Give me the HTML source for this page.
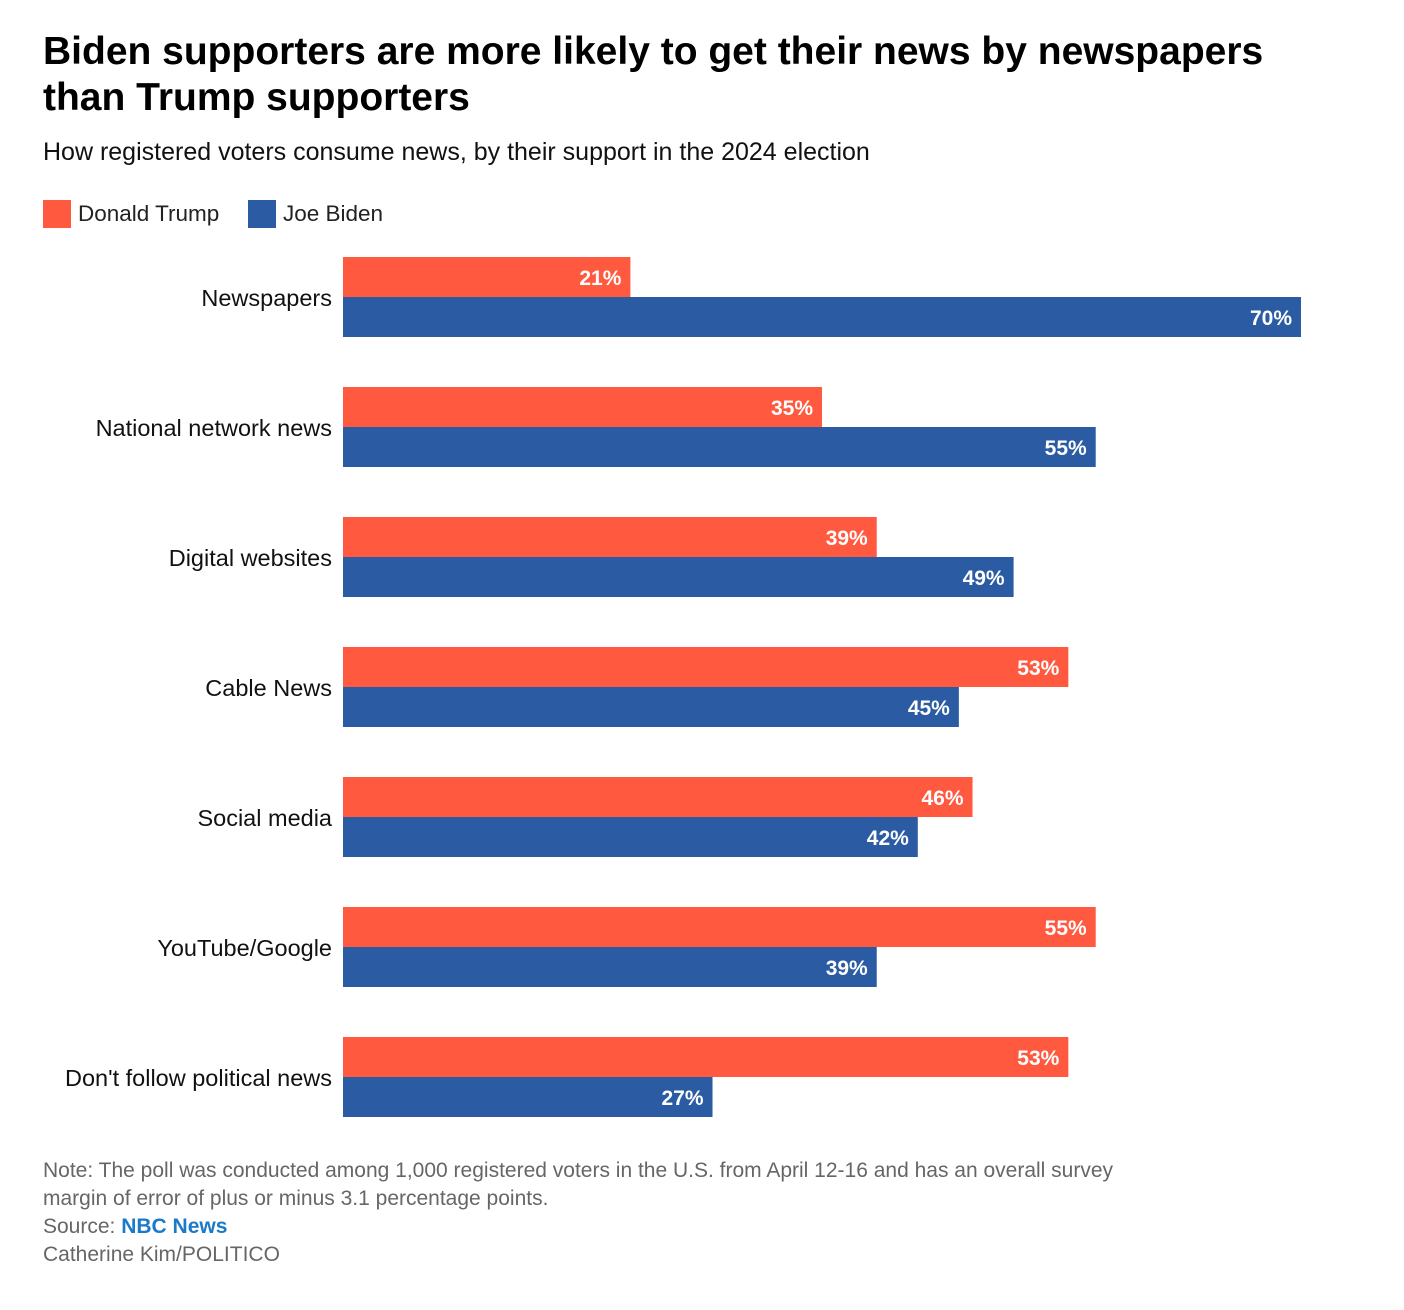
<!DOCTYPE html>
<html><head><meta charset="utf-8">
<style>
body{margin:0;background:#fff;width:1404px;height:1310px;overflow:hidden;font-family:"Liberation Sans",sans-serif;}
.t{position:absolute;left:43px;top:29px;font-size:39px;font-weight:bold;line-height:46px;color:#000;width:1360px;white-space:nowrap;}
.s{position:absolute;left:43px;top:138px;font-size:25px;color:#111;white-space:nowrap;}
.lg{position:absolute;top:200px;height:28px;font-size:22.5px;line-height:28px;color:#222;}
.sq{display:inline-block;width:28px;height:28px;vertical-align:top;margin-right:7px;}
.n{position:absolute;left:43px;top:1157px;font-size:21px;line-height:28px;color:#666;width:1130px;}
</style></head><body>
<div class="t">Biden supporters are more likely to get their news by newspapers<br>than Trump supporters</div>
<div class="s">How registered voters consume news, by their support in the 2024 election</div>
<div class="lg" style="left:43px"><span class="sq" style="background:#ff5a40"></span>Donald Trump</div>
<div class="lg" style="left:248px"><span class="sq" style="background:#2b5ca3"></span>Joe Biden</div>
<svg id="c" width="1404" height="1310" style="position:absolute;left:0;top:0"></svg>
<div class="n">Note: The poll was conducted among 1,000 registered voters in the U.S. from April 12-16 and has an overall survey margin of error of plus or minus 3.1 percentage points.<br>Source: <span style="color:#1a7ac8;font-weight:bold">NBC News</span><br>Catherine Kim/POLITICO</div>
<script>
const categories=["Newspapers","National network news","Digital websites","Cable News","Social media","YouTube/Google","Don't follow political news"];
const trump=[21,35,39,53,46,55,53];
const biden=[70,55,49,45,42,39,27];
const svg=document.getElementById('c');
const NS='http://www.w3.org/2000/svg';
const x0=343,k=958/70;
function xs(v){return v*k;}
function yb(i){return 257+i*130;}
function mk(t,a){const e=document.createElementNS(NS,t);for(const q in a)e.setAttribute(q,a[q]);svg.appendChild(e);return e;}
categories.forEach((c,i)=>{
  const y=yb(i);
  const l=mk('text',{x:332,y:y+49,'text-anchor':'end','font-size':23.5,fill:'#111','font-family':'Liberation Sans, sans-serif'});
  l.textContent=c;
  
  
  [[trump[i],'#ff5a40',y,'bar-trump'],[biden[i],'#2b5ca3',y+40,'bar-biden']].forEach(([v,col,yy,nm])=>{
    const r=mk('rect',{x:x0,y:yy,width:xs(v),height:40,fill:col});
    
    
    const t=mk('text',{x:x0+xs(v)-9,y:yy+28,'text-anchor':'end','font-size':21,'font-weight':'bold',fill:'#fff','font-family':'Liberation Sans, sans-serif'});
    t.textContent=v+'%';
    
    
  });
});
</script>
</body></html>
